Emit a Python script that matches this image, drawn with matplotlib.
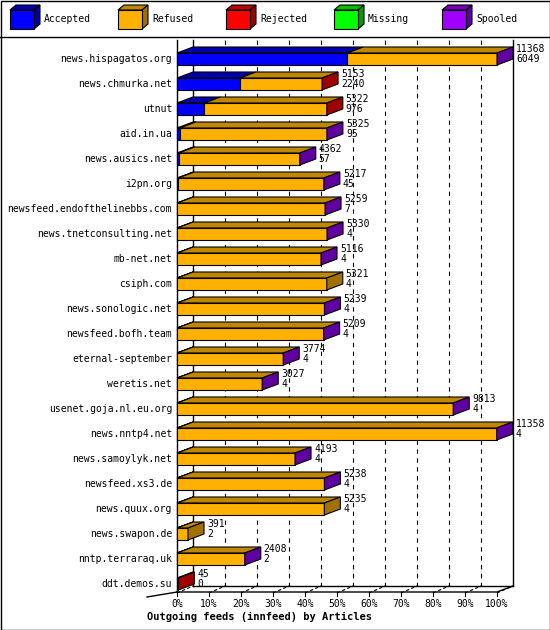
import matplotlib
matplotlib.use("Agg")
import matplotlib.pyplot as plt
from matplotlib.patches import Polygon, Rectangle

hosts = ["news.hispagatos.org", "news.chmurka.net", "utnut", "aid.in.ua",
         "news.ausics.net", "i2pn.org", "newsfeed.endofthelinebbs.com",
         "news.tnetconsulting.net", "mb-net.net", "csiph.com",
         "news.sonologic.net", "newsfeed.bofh.team", "eternal-september",
         "weretis.net", "usenet.goja.nl.eu.org", "news.nntp4.net",
         "news.samoylyk.net", "newsfeed.xs3.de", "news.quux.org",
         "news.swapon.de", "nntp.terraraq.uk", "ddt.demos.su"]
offered = [11368, 5153, 5322, 5325, 4362, 5217, 5259, 5330, 5116, 5321, 5239,
           5209, 3774, 3027, 9813, 11358, 4193, 5238, 5235, 391, 2408, 45]
accepted = [6049, 2240, 976, 95, 57, 45, 7, 4, 4, 4, 4,
            4, 4, 4, 4, 4, 4, 4, 4, 2, 2, 0]
# colour of the end face (last non-empty segment)
cap = ["spooled", "rejected", "rejected", "spooled", "spooled", "spooled",
       "spooled", "spooled", "spooled", "refused", "spooled", "spooled",
       "spooled", "spooled", "spooled", "spooled", "spooled", "spooled",
       "refused", "refused", "spooled", "rejected"]

legend_names = ["Accepted", "Refused", "Rejected", "Missing", "Spooled"]
front = {"accepted": "#0000ff", "refused": "#ffb000", "rejected": "#ff0000",
         "missing": "#00ff00", "spooled": "#a000ff"}
top = {"accepted": "#0000b0", "refused": "#c08800", "rejected": "#c00000",
       "missing": "#00c000", "spooled": "#7800c0"}
side = {"accepted": "#0000a0", "refused": "#a07000", "rejected": "#a00000",
        "missing": "#00a000", "spooled": "#6000a0"}

X0, W = 177, 320        # front plane: 0% .. 100%
DX, DY = 16, 6          # depth offset
Y_FIRST, STEP, BH = 53, 25, 12
Y_AXIS = 592
MONO = "DejaVu Sans Mono"
FS = 7

fig = plt.figure(figsize=(5.5, 6.3), dpi=100)
ax = fig.add_axes([0, 0, 1, 1])
ax.set_xlim(0, 550)
ax.set_ylim(630, 0)
ax.axis("off")

def poly(pts, fc, z=3):
    ax.add_patch(Polygon(pts, closed=True, facecolor=fc, edgecolor="black",
                         lw=0.8, zorder=z))

# frame
ax.add_patch(Rectangle((0.5, 0.5), 549, 629, fill=False, lw=1, zorder=5))
ax.plot([0, 550], [37, 37], color="black", lw=1, zorder=5)

# legend
for i, name in enumerate(legend_names):
    key = name.lower()
    lx = 10 + i * 108
    poly([(lx, 10), (lx + 6, 5), (lx + 30, 5), (lx + 24, 10)], top[key])
    poly([(lx + 24, 10), (lx + 30, 5), (lx + 30, 24), (lx + 24, 29)], side[key])
    poly([(lx, 10), (lx + 24, 10), (lx + 24, 29), (lx, 29)], front[key])
    ax.text(lx + 34, 19, name, fontsize=FS, family=MONO, va="center")

# back plane, gridlines, axis
ax.plot([X0 + DX, X0 + DX], [40, Y_AXIS - DY], color="black", lw=1, zorder=1)
ax.plot([X0 + W + DX, X0 + W + DX], [40, Y_AXIS - DY], color="black", lw=1, zorder=1)
ax.plot([X0 + DX, X0 + W + DX], [Y_AXIS - DY, Y_AXIS - DY], color="black", lw=1, zorder=1)
ax.plot([X0 - 30, X0], [Y_AXIS + 5, Y_AXIS], color="black", lw=1, zorder=1)
ax.plot([X0, X0 + W, X0 + W + DX], [Y_AXIS, Y_AXIS, Y_AXIS - DY], color="black", lw=1, zorder=1)
ax.plot([X0, X0], [40, Y_AXIS], color="black", lw=1, zorder=1)
for k in range(11):
    gx = X0 + W * k / 10
    if 0 < k < 10:
        ax.plot([gx + DX, gx + DX], [40, Y_AXIS - DY], color="black", lw=0.8,
                ls=(0, (4, 4)), zorder=1)
    ax.plot([gx, gx + DX], [Y_AXIS + 1, Y_AXIS - DY], color="black", lw=0.8,
            ls=(0, (3, 2)), zorder=1)
    ax.plot([gx, gx], [Y_AXIS, Y_AXIS + 4], color="black", lw=0.8, zorder=1)
    ax.text(gx, Y_AXIS + 12, f"{k * 10}%", fontsize=FS, family=MONO,
            ha="center", va="center")
ax.text(X0 - 30, 617, "Outgoing feeds (innfeed) by Articles", fontsize=7.5,
        family=MONO, weight="bold", va="center")

vmax = max(offered)
for i, (h, off, acc, c) in enumerate(zip(hosts, offered, accepted, cap)):
    yt = Y_FIRST + i * STEP
    yb = yt + BH
    xa = X0 + W * acc / vmax
    xe = X0 + W * off / vmax
    segs = []
    if acc > 0:
        segs.append(("accepted", X0, xa))
    if xe > xa:
        segs.append(("refused", xa, xe))
    for key, s, e in segs:
        poly([(s, yt), (s + DX, yt - DY), (e + DX, yt - DY), (e, yt)], top[key])
        poly([(s, yt), (e, yt), (e, yb), (s, yb)], front[key])
    poly([(xe, yt), (xe + DX, yt - DY), (xe + DX, yb - DY), (xe, yb)], side[c])
    ax.text(172, yt + BH / 2, h, fontsize=FS, family=MONO, ha="right", va="center")
    ax.text(xe + DX + 3, yt - 4, str(off), fontsize=FS, family=MONO, va="center")
    ax.text(xe + DX + 3, yt + 6, str(acc), fontsize=FS, family=MONO, va="center")

fig.savefig("out.png", dpi=100)
